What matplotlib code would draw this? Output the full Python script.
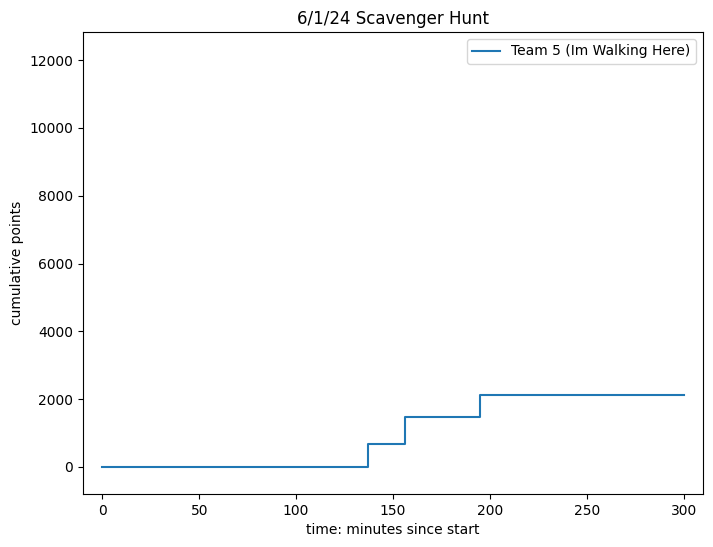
import matplotlib
matplotlib.use("Agg")
import matplotlib.pyplot as plt

times = [0, 137, 156, 195, 300]
points = [0, 680, 1480, 2120, 2120]
team_label = "Team 5 (Im Walking Here)"

fig = plt.figure(figsize=(7.13, 5.47), dpi=100)
ax = fig.add_axes([83/713, 1-494/547, 620/713, 462/547])
ax.step(times, points, where="post", label=team_label)
ax.set_xlim(-10, 310)
ax.set_ylim(-800, 12830)
ax.set_title("6/1/24 Scavenger Hunt")
ax.set_xlabel("time: minutes since start")
ax.set_ylabel("cumulative points")
ax.legend(loc="upper right")
fig.savefig("out.png", dpi=100)
